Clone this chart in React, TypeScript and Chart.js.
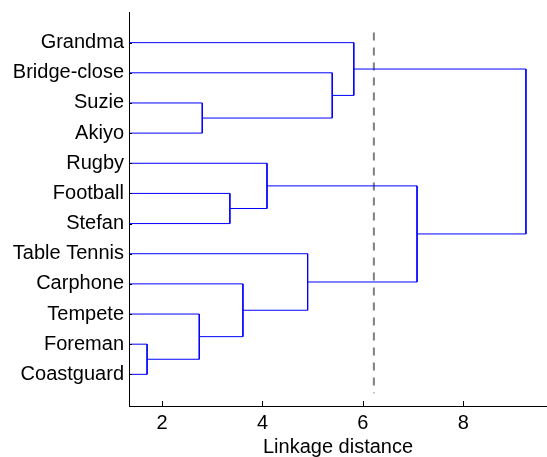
import React, { useEffect, useRef } from 'react';
import { Chart, registerables } from 'chart.js';

Chart.register(...registerables);

// ---- data ----
const leafLabels = [
  'Grandma', 'Bridge-close', 'Suzie', 'Akiyo', 'Rugby', 'Football',
  'Stefan', 'Table Tennis', 'Carphone', 'Tempete', 'Foreman', 'Coastguard',
];
// linkage: node ids 0..11 are leaves, 12.. are merges in order
const mergeLeft = [10, 2, 9, 5, 8, 4, 7, 1, 0, 17, 20];
const mergeRight = [11, 3, 12, 6, 14, 15, 16, 13, 19, 18, 21];
const mergeHeight = [1.70, 2.80, 2.74, 3.35, 3.61, 4.09, 4.90, 5.39, 5.82, 7.08, 9.25];
const xTickValues = [2, 4, 6, 8];
const cutoffDistance = 6.22;
const cutoffSpan = [0.66, 12.63];
const xLimits = [1.34, 9.67];
const yLimits = [0, 13.05];
const xTitle = 'Linkage distance';

const FONT = 'Liberation Sans, Arial, Helvetica, sans-serif';
const FSIZE = 20;

function buildLinks() {
  const nodeY: number[] = leafLabels.map((_, i) => i + 1);
  const nodeH: number[] = leafLabels.map(() => 0);
  return mergeHeight.map((h, k) => {
    const a = mergeLeft[k];
    const b = mergeRight[k];
    const pts = [
      { x: nodeH[a], y: nodeY[a] },
      { x: h, y: nodeY[a] },
      { x: h, y: nodeY[b] },
      { x: nodeH[b], y: nodeY[b] },
    ];
    nodeY.push((nodeY[a] + nodeY[b]) / 2);
    nodeH.push(h);
    return pts;
  });
}

const inwardTicks = {
  id: 'inwardTicks',
  afterDatasetsDraw(chart: any) {
    const { ctx, chartArea, scales } = chart;
    ctx.save();
    ctx.strokeStyle = '#000';
    ctx.lineWidth = 1;
    ctx.beginPath();
    xTickValues.forEach((v) => {
      const px = Math.round(scales.x.getPixelForValue(v)) + 0.5;
      ctx.moveTo(px, chartArea.bottom);
      ctx.lineTo(px, chartArea.bottom - 5);
    });
    leafLabels.forEach((_, i) => {
      const py = Math.round(scales.y.getPixelForValue(i + 1)) + 0.5;
      ctx.moveTo(chartArea.left, py);
      ctx.lineTo(chartArea.left + 3, py);
    });
    ctx.stroke();
    ctx.restore();
  },
};

function zeroPadding(scale: any) {
  scale.paddingTop = 0;
  scale.paddingBottom = 0;
  scale.paddingLeft = 0;
  scale.paddingRight = 0;
}

export default function App() {
  const ref = useRef<HTMLCanvasElement | null>(null);

  useEffect(() => {
    if (!ref.current) return;
    const links = buildLinks();
    const datasets: any[] = links.map((pts) => ({
      data: pts,
      showLine: true,
      borderColor: '#0000ff',
      backgroundColor: '#0000ff',
      borderWidth: 1,
      pointRadius: 0,
      tension: 0,
    }));
    datasets.push({
      data: [
        { x: cutoffDistance, y: cutoffSpan[0] },
        { x: cutoffDistance, y: cutoffSpan[1] },
      ],
      showLine: true,
      borderColor: '#7f7f7f',
      borderWidth: 2,
      borderDash: [8, 7],
      pointRadius: 0,
    });

    const chart = new Chart(ref.current, {
      type: 'scatter',
      data: { datasets },
      plugins: [inwardTicks],
      options: {
        animation: false,
        responsive: false,
        maintainAspectRatio: false,
        layout: { padding: { top: 12.5, right: 0, left: 0, bottom: 0 } },
        plugins: { legend: { display: false }, tooltip: { enabled: false } },
        scales: {
          x: {
            type: 'linear',
            min: xLimits[0],
            max: xLimits[1],
            afterBuildTicks: (scale: any) => {
              scale.ticks = xTickValues.map((v) => ({ value: v }));
            },
            afterFit: (scale: any) => {
              scale.height = 51;
              zeroPadding(scale);
            },
            grid: { display: false, drawTicks: false },
            border: { display: true, color: '#000', width: 1 },
            ticks: {
              color: '#000',
              padding: 5,
              maxRotation: 0,
              font: { family: FONT, size: FSIZE },
            },
            title: {
              display: true,
              text: xTitle,
              color: '#000',
              padding: { top: 0, bottom: 0 },
              font: { family: FONT, size: FSIZE, lineHeight: 0.95 },
            },
          },
          y: {
            type: 'linear',
            reverse: true,
            min: yLimits[0],
            max: yLimits[1],
            afterBuildTicks: (scale: any) => {
              scale.ticks = leafLabels.map((_, i) => ({ value: i + 1 }));
            },
            afterFit: (scale: any) => {
              scale.width = 129;
              zeroPadding(scale);
            },
            grid: { display: false, drawTicks: false },
            border: { display: true, color: '#000', width: 1 },
            ticks: {
              color: '#000',
              padding: 5,
              autoSkip: false,
              font: { family: FONT, size: FSIZE },
              callback: (v: any) => leafLabels[Number(v) - 1] ?? '',
            },
          },
        },
      },
    });
    return () => chart.destroy();
  }, []);

  return (
    <div style={{ position: 'absolute', left: 0, top: 0, width: 547, height: 457, background: '#fff' }}>
      <canvas ref={ref} width={547} height={457} style={{ display: 'block' }} />
    </div>
  );
}
